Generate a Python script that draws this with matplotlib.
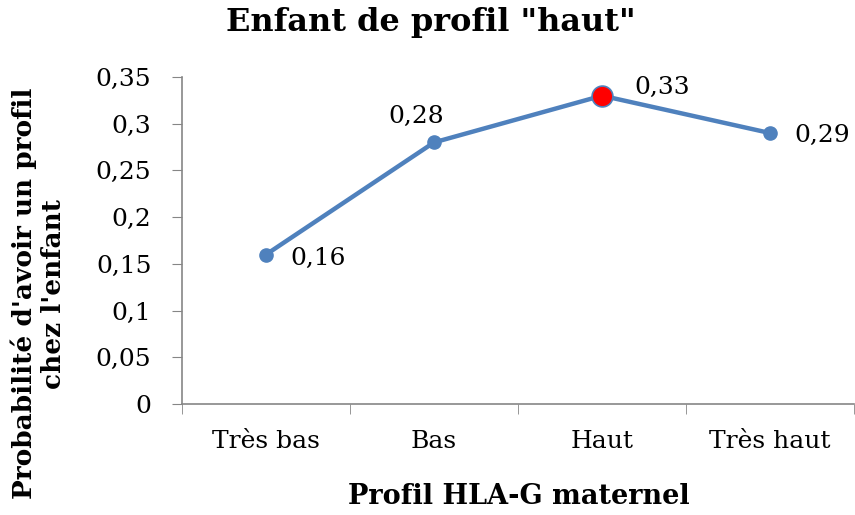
import matplotlib
matplotlib.use("Agg")
import matplotlib.pyplot as plt
from matplotlib.ticker import FuncFormatter

# data
categories = ["Très bas", "Bas", "Haut", "Très haut"]
probabilities = [0.16, 0.28, 0.33, 0.29]
highlight_index = 2  # "Haut" drawn in red
label_offsets = [(24, -4), (-18, 26), (32, 8), (24, -2)]  # pixels from point
label_align = ["left", "center", "left", "left"]

line_color = "#4F81BD"
axis_color = "#868686"

plt.rcParams["font.family"] = ["DejaVu Serif"]

fig = plt.figure(figsize=(8.55, 5.15), dpi=100)
ax = fig.add_axes([0.2129, 0.2155, 0.786, 0.635])

x = list(range(len(categories)))
ax.plot(x, probabilities, color=line_color, linewidth=3.2, marker="o",
        markersize=9.5, markerfacecolor=line_color, markeredgecolor=line_color,
        zorder=3)
ax.plot([x[highlight_index]], [probabilities[highlight_index]], marker="o",
        markersize=15, markerfacecolor="#FF0000", markeredgecolor=line_color,
        markeredgewidth=1.2, linestyle="none", zorder=4)

for i, v in enumerate(probabilities):
    ax.annotate(f"{v:.2f}".replace(".", ","), (x[i], v),
                xytext=label_offsets[i], textcoords="offset pixels",
                ha=label_align[i], va="center", fontsize=18)

ax.set_xlim(-0.5, len(categories) - 0.5)
ax.set_ylim(0, 0.35)
ax.set_yticks([0, 0.05, 0.1, 0.15, 0.2, 0.25, 0.3, 0.35])
ax.yaxis.set_major_formatter(FuncFormatter(
    lambda v, p: ("%g" % round(v, 2)).replace(".", ",")))
ax.set_xticks(x)
ax.set_xticklabels(categories)
ax.set_xticks([i - 0.5 for i in range(len(categories) + 1)], minor=True)
ax.tick_params(axis="x", which="major", length=0, pad=19, labelsize=18)
ax.tick_params(axis="x", which="minor", length=7, color=axis_color)
ax.tick_params(axis="y", length=7, color=axis_color, labelsize=18, pad=15)

for s in ["top", "right"]:
    ax.spines[s].set_visible(False)
for s in ["left", "bottom"]:
    ax.spines[s].set_color(axis_color)
    ax.spines[s].set_linewidth(1.2)

fig.text(0.504, 0.957, 'Enfant de profil "haut"', ha="center", va="center",
         fontsize=23, fontweight="bold")
fig.text(0.607, 0.035, "Profil HLA-G maternel", ha="center", va="center",
         fontsize=19.5, fontweight="bold")
fig.text(0.045, 0.43, "Probabilité d'avoir un profil\nchez l'enfant",
         ha="center", va="center", rotation=90, fontsize=19,
         fontweight="bold", linespacing=1.2)

fig.savefig("out.png", dpi=100)
